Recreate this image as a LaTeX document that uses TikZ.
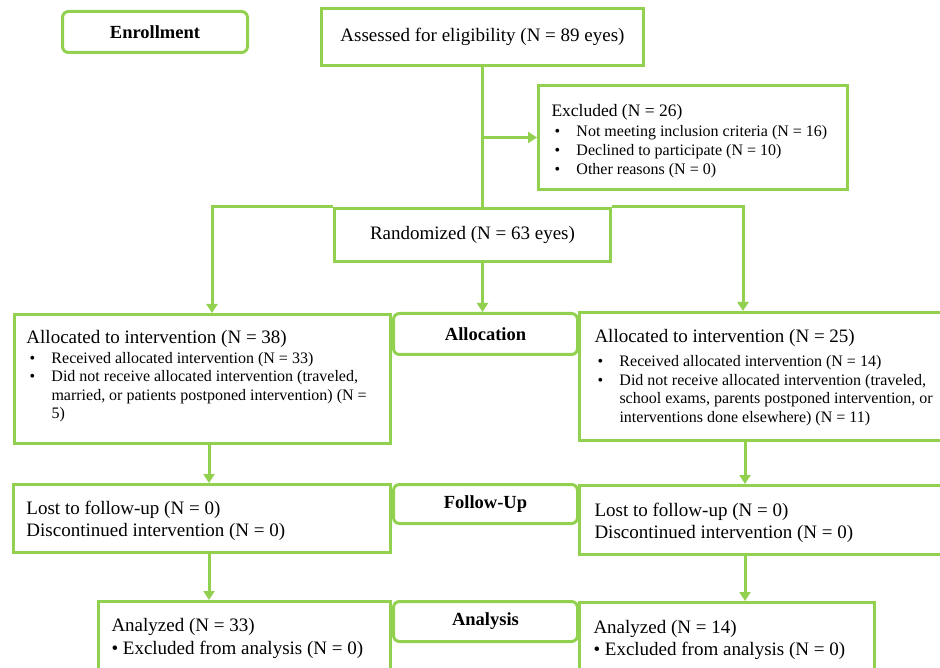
\documentclass[tikz,border=0pt]{standalone}
\usepackage{fontspec}
\setmainfont{Liberation Serif}
\usetikzlibrary{arrows.meta,calc}
\definecolor{cgreen}{RGB}{146,208,80}
\newcommand{\bul}{\hspace*{3pt}\makebox[22pt][l]{\textbullet}}
\newcommand{\cont}{\hspace*{25pt}}
\newcommand{\fbig}{\fontsize{19}{21.5}\selectfont}
\newcommand{\fsml}{\fontsize{16}{18.5}\selectfont}
% lower a paragraph block by #1 without changing its reported size
\newcommand{\dn}[3]{\raisebox{-#1}[\height][\depth]{\parbox{#2}{\raggedright #3\par}}}
\begin{document}
\begin{tikzpicture}[x=1pt,y=-1pt,
  box/.style={draw=cgreen, line width=3pt, inner sep=0pt, fill=white, anchor=north west},
  txtbox/.style={box},
  lbl/.style={box, rounded corners=6pt, align=center, font=\fontsize{18.5}{20}\selectfont\bfseries},
  ctr/.style={box, align=center, font=\fbig},
  conn/.style={draw=cgreen, line width=3pt},
  arr/.style={conn, -{Triangle[width=11pt,length=9pt]}}]
\useasboundingbox (0,0) rectangle (940,668);

\node[lbl, minimum width=185pt, minimum height=41pt] (enroll) at (61,10) {Enrollment};
\node[ctr, minimum width=322pt, minimum height=57pt] (ass) at (320,7) {Assessed for eligibility (N = 89 eyes)};
\node[txtbox, minimum width=309pt, minimum height=104pt] (excl) at (537,84)
  {\dn{3.5pt}{283pt}{\fontsize{17.5}{19}\selectfont Excluded (N = 26)\\[1pt]
   \fontsize{16}{19}\selectfont\bul Not meeting inclusion criteria (N = 16)\\
   \bul Declined to participate (N = 10)\\
   \bul Other reasons (N = 0)}};
\node[ctr, minimum width=276pt, minimum height=53pt] (rand) at (333,207) {Randomized (N = 63 eyes)};

\node[lbl, minimum width=184pt, minimum height=41pt] (alab) at (392,312) {Allocation};
\node[txtbox, minimum width=376pt, minimum height=129pt] (la) at (13,313)
  {\dn{-3pt}{352pt}{\fbig Allocated to intervention (N = 38)\\[1.5pt]
   \fsml\bul Received allocated intervention (N = 33)\\
   \bul Did not receive allocated intervention (traveled,\\
   \cont married, or patients postponed intervention) (N =\\
   \cont 5)}};
\node[txtbox, minimum width=382pt, minimum height=128pt] (ra) at (578,311)
  {\dn{1pt}{352pt}{\fbig Allocated to intervention (N = 25)\\[5.5pt]
   \fsml\bul Received allocated intervention (N = 14)\\
   \bul Did not receive allocated intervention (traveled,\\
   \cont school exams, parents postponed intervention, or\\
   \cont interventions done elsewhere) (N = 11)}};

\node[lbl, minimum width=184pt, minimum height=39pt] (flab) at (392,483) {Follow-Up};
\node[txtbox, minimum width=377pt, minimum height=68pt] (lf) at (12,483)
  {\dn{2.5pt}{351pt}{\fbig Lost to follow-up (N = 0)\\ Discontinued intervention (N = 0)}};
\node[txtbox, minimum width=382pt, minimum height=69pt] (rf) at (578,484)
  {\dn{3pt}{352pt}{\fbig Lost to follow-up (N = 0)\\ Discontinued intervention (N = 0)}};

\node[lbl, minimum width=184pt, minimum height=40pt] (anlab) at (392,600) {Analysis};
\node[txtbox, minimum width=292pt, minimum height=74pt] (lan) at (97,600)
  {\dn{0pt}{266pt}{\fontsize{19}{23}\selectfont Analyzed (N = 33)\\ \textbullet{} Excluded from analysis (N = 0)}};
\node[txtbox, minimum width=295pt, minimum height=73pt] (ran) at (578,601)
  {\dn{0.5pt}{267pt}{\fontsize{19}{22}\selectfont Analyzed (N = 14)\\ \textbullet{} Excluded from analysis (N = 0)}};

\coordinate (xa) at (212,0);
\coordinate (xb) at (743,0);
\coordinate (xc) at (209,0);
\coordinate (xd) at (745,0);

\draw[conn] (ass.south) -- (ass.south |- rand.north);
\draw[arr] (ass.south |- excl.west) -- (excl.west);
\draw[arr] (rand.north west) -| (la.north -| xa);
\draw[arr] (rand.north east) -| (ra.north -| xb);
\draw[arr] (ass.south |- rand.south) -- (ass.south |- alab.north);
\draw[arr] (la.south -| xc) -- (lf.north -| xc);
\draw[arr] (lf.south -| xc) -- (lan.north -| xc);
\draw[arr] (ra.south -| xd) -- (rf.north -| xd);
\draw[arr] (rf.south -| xd) -- (ran.north -| xd);
\end{tikzpicture}
\end{document}
